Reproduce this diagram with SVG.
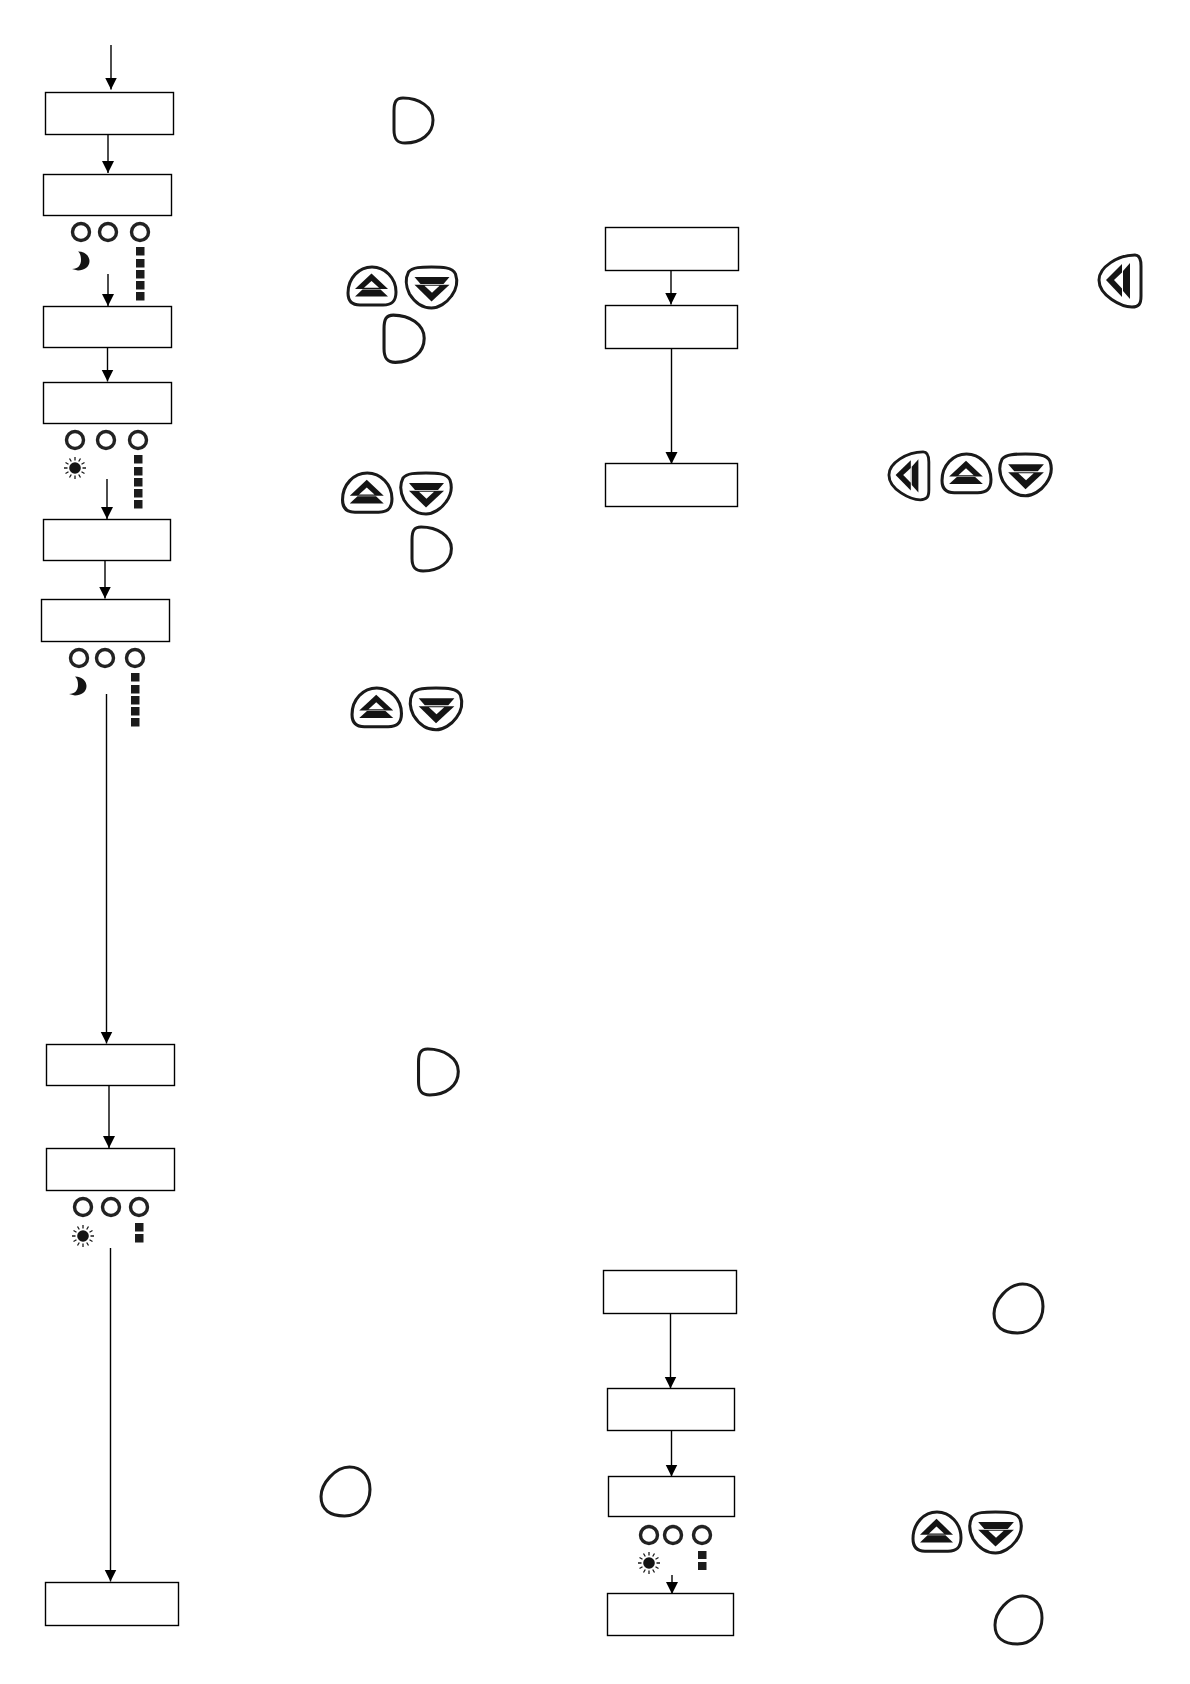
<svg xmlns="http://www.w3.org/2000/svg" width="1190" height="1684" viewBox="0 0 1190 1684">
<style>
.box{fill:#fff;stroke:#000;stroke-width:1.4}
.wire{fill:none;stroke:#000;stroke-width:1.4;marker-end:url(#ah)}
.btn{fill:#fff;stroke:#1a1a1a;stroke-width:3;stroke-linejoin:round}
.g{fill:#141414;stroke:none}
.w{fill:#fff;stroke:none}
.led{fill:#fff;stroke:#222;stroke-width:3.400}
.sq{fill:#1c1c1c}
.ray{stroke:#1a1a1a;stroke-width:1.300;fill:none}
</style>
<defs>
<marker id="ah" markerUnits="userSpaceOnUse" markerWidth="13" markerHeight="13" refX="12" refY="6" orient="auto"><path d="M0,0L12,6L0,12Z" fill="#000"/></marker>
<g id="bD"><path class="btn" d="M10,1C3,1 1,5 1,14L1,33C1,42 4,46 12,46C28,46 40,37 40,23C40,10 26,1 10,1Z"/></g>
<g id="bO"><path class="btn" d="M29,1C41,1 49,10 49,23C49,38 38,49 24,49C10,49 1,43 1,30C1,17 15,1 29,1Z"/></g>
<g id="bU"><path class="btn" d="M25,1C38,1 49,12 49,26C49,36 44,39 36,39L13,39C5,39 1,35 1,27C1,12 12,1 25,1Z"/>
<path class="g" d="M24.500,7.500L41,23L8,23Z"/><path class="w" d="M24.500,15L32,21.800L17,21.800Z"/><path class="g" d="M15.500,23.500L33.500,23.500L41,30.500L8,30.500Z"/></g>
<g id="bV"><path class="btn" d="M26,1C36,1 47,1 50,8C52,14 52,22 46,30C41,37 33,42 26,42C17,42 9,36 4,28C0,20 0,12 3,6C7,1 16,1 26,1Z"/>
<path class="g" d="M9,11L44,11L38,18L15,18Z"/><path class="g" d="M9,18.800L44,18.800L26,35.500Z"/><path class="w" d="M19,19.800L34,19.800L26.500,26.800Z"/></g>
<g id="bL"><path class="btn" d="M37,1C42,1 43,6 43,12L43,42C43,50 41,53 34,53C24,53 1,42 1,26C1,13 20,1 37,1Z"/>
<path class="g" d="M8,26L24,10L24,43Z"/><path class="w" d="M16,26L24,18.500L24,34.500Z"/><path class="g" d="M32,9L32,45L25,37L25,17Z"/></g>
<g id="moon"><path class="g" d="M-3,-9.500C5,-9.500 8.500,-4 8.500,0C8.500,6 3,9.500 -3,9.500L-9,8C-3,8 0,4 0,-1C0,-5 -1,-8 -3,-9.500Z"/></g>
<g id="sun"><circle r="5.800" class="g"/><path class="ray" d="M0,-7.500V-11M0,7.500V11M-7.500,0H-11M7.500,0H11M3.700,-6.500L5.500,-9.500M-3.700,-6.500L-5.500,-9.500M3.700,6.500L5.500,9.500M-3.700,6.500L-5.500,9.500M6.500,-3.700L9.500,-5.500M-6.500,-3.700L-9.500,-5.500M6.500,3.700L9.500,5.500M-6.500,3.700L-9.500,5.500"/></g>
</defs>
<rect width="1190" height="1684" fill="#fff"/>
<g id="connectors">
<path class="wire" d="M111,45V89.500"/>
<path class="wire" d="M108,134V173"/>
<path class="wire" d="M108,274V306"/>
<path class="wire" d="M107.500,347V381.500"/>
<path class="wire" d="M107,479V519"/>
<path class="wire" d="M105,560V598.500"/>
<path class="wire" d="M106.500,694V1043.500"/>
<path class="wire" d="M109,1085V1148"/>
<path class="wire" d="M110.500,1248V1581.500"/>
<path class="wire" d="M671,270V304.500"/>
<path class="wire" d="M671.500,348V464"/>
<path class="wire" d="M670.500,1314V1388.500"/>
<path class="wire" d="M671.500,1431V1476.500"/>
<path class="wire" d="M672,1575V1594"/>
</g>
<g id="n1"><rect class="box" x="45.500" y="92.500" width="128" height="42"/></g>
<g id="n2"><rect class="box" x="43.500" y="174.500" width="128" height="41"/></g>
<g id="n3"><rect class="box" x="43.500" y="306.500" width="128" height="41"/></g>
<g id="n4"><rect class="box" x="43.500" y="382.500" width="128" height="41"/></g>
<g id="n5"><rect class="box" x="43.500" y="519.500" width="127" height="41"/></g>
<g id="n6"><rect class="box" x="41.500" y="599.500" width="128" height="42"/></g>
<g id="n7"><rect class="box" x="46.500" y="1044.500" width="128" height="41"/></g>
<g id="n8"><rect class="box" x="46.500" y="1148.500" width="128" height="42"/></g>
<g id="n9"><rect class="box" x="45.500" y="1582.500" width="133" height="43"/></g>
<g id="n10"><rect class="box" x="605.500" y="227.500" width="133" height="43"/></g>
<g id="n11"><rect class="box" x="605.500" y="305.500" width="132" height="43"/></g>
<g id="n12"><rect class="box" x="605.500" y="463.500" width="132" height="43"/></g>
<g id="n13"><rect class="box" x="603.500" y="1270.500" width="133" height="43"/></g>
<g id="n14"><rect class="box" x="607.500" y="1388.500" width="127" height="42"/></g>
<g id="n15"><rect class="box" x="608.500" y="1476.500" width="126" height="40"/></g>
<g id="n16"><rect class="box" x="607.500" y="1593.500" width="126" height="42"/></g>
<g id="ind1"><circle class="led" cx="81" cy="232" r="8.500"/><circle class="led" cx="108" cy="232" r="8.500"/><circle class="led" cx="140" cy="232" r="8.500"/><use href="#moon" x="81" y="261"/>
<rect class="sq" x="136" y="247" width="8.500" height="8.500"/><rect class="sq" x="136" y="259" width="8.500" height="8.500"/><rect class="sq" x="136" y="270" width="8.500" height="8.500"/><rect class="sq" x="136" y="281" width="8.500" height="8.500"/><rect class="sq" x="136" y="292" width="8.500" height="8.500"/></g>
<g id="ind2"><circle class="led" cx="75" cy="440" r="8.500"/><circle class="led" cx="106" cy="440" r="8.500"/><circle class="led" cx="138" cy="440" r="8.500"/><use href="#sun" x="75" y="468"/>
<rect class="sq" x="134" y="455" width="8.500" height="8.500"/><rect class="sq" x="134" y="467" width="8.500" height="8.500"/><rect class="sq" x="134" y="478" width="8.500" height="8.500"/><rect class="sq" x="134" y="489" width="8.500" height="8.500"/><rect class="sq" x="134" y="500" width="8.500" height="8.500"/></g>
<g id="ind3"><circle class="led" cx="79" cy="658" r="8.500"/><circle class="led" cx="105" cy="658" r="8.500"/><circle class="led" cx="135" cy="658" r="8.500"/><use href="#moon" x="78" y="686"/>
<rect class="sq" x="131" y="673" width="8.500" height="8.500"/><rect class="sq" x="131" y="685" width="8.500" height="8.500"/><rect class="sq" x="131" y="696" width="8.500" height="8.500"/><rect class="sq" x="131" y="707" width="8.500" height="8.500"/><rect class="sq" x="131" y="718" width="8.500" height="8.500"/></g>
<g id="ind4"><circle class="led" cx="83" cy="1207" r="8.500"/><circle class="led" cx="111" cy="1207" r="8.500"/><circle class="led" cx="139" cy="1207" r="8.500"/><use href="#sun" x="83" y="1236"/>
<rect class="sq" x="135" y="1223" width="8.500" height="8.500"/><rect class="sq" x="135" y="1234" width="8.500" height="8.500"/></g>
<g id="ind5"><circle class="led" cx="649" cy="1535" r="8.500"/><circle class="led" cx="673" cy="1535" r="8.500"/><circle class="led" cx="702" cy="1535" r="8.500"/><use href="#sun" x="649" y="1563"/>
<rect class="sq" x="698" y="1551" width="8.500" height="8"/><rect class="sq" x="698" y="1562" width="8.500" height="8"/></g>
<g id="btn1"><use href="#bD" transform="translate(393,97)"/></g>
<g id="btn2"><use href="#bU" transform="translate(347,266)"/></g>
<g id="btn3"><use href="#bV" transform="translate(405.500,266)"/></g>
<g id="btn4"><use href="#bD" transform="translate(383,314) scale(1.03,1.05)"/></g>
<g id="btn5"><use href="#bU" transform="translate(341.500,472) scale(1.03,1.03)"/></g>
<g id="btn6"><use href="#bV" transform="translate(400,472)"/></g>
<g id="btn7"><use href="#bD" transform="translate(411,526) scale(1.01,.98)"/></g>
<g id="btn8"><use href="#bU" transform="translate(351,687) scale(1.03,1.02)"/></g>
<g id="btn9"><use href="#bV" transform="translate(409.500,687) scale(1.02,1.02)"/></g>
<g id="btn10"><use href="#bD" transform="translate(417.500,1048) scale(1.02,1.02)"/></g>
<g id="btn11"><use href="#bO" transform="translate(320,1466) scale(1.02,1.02)"/></g>
<g id="btn12"><use href="#bL" transform="translate(1098,254)"/></g>
<g id="btn13"><use href="#bL" transform="translate(888,451) scale(.95,.92)"/></g>
<g id="btn14"><use href="#bU" transform="translate(941,453) scale(1.02,1.02)"/></g>
<g id="btn15"><use href="#bV" transform="translate(999,453) scale(1.02,1.02)"/></g>
<g id="btn16"><use href="#bO" transform="translate(993,1283) scale(1.02,1.02)"/></g>
<g id="btn17"><use href="#bU" transform="translate(912,1511) scale(1,1.03)"/></g>
<g id="btn18"><use href="#bV" transform="translate(969,1511) scale(1.02,1)"/></g>
<g id="btn19"><use href="#bO" transform="translate(994,1595) scale(.98,1)"/></g>
</svg>
